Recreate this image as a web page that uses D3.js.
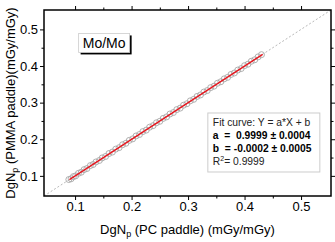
<!DOCTYPE html>
<html>
<head>
<meta charset="utf-8">
<script src="https://cdnjs.cloudflare.com/ajax/libs/d3/7.8.5/d3.min.js"></script>
<style>
  html, body { margin: 0; padding: 0; background: #fff; }
  svg { display: block; font-family: "Liberation Sans", Arial, sans-serif; }
</style>
</head>
<body>
<div id="chart"></div>
<script>
// DgNp values (PC paddle vs PMMA paddle)
var pcValues = [0.089, 0.093, 0.097, 0.101, 0.106, 0.111, 0.116, 0.121, 0.127, 0.132,
                0.137, 0.143, 0.148, 0.154, 0.160, 0.166, 0.172, 0.178, 0.184, 0.190,
                0.196, 0.202, 0.208, 0.214, 0.220, 0.226, 0.232, 0.238, 0.244, 0.250,
                0.256, 0.262, 0.268, 0.274, 0.280, 0.286, 0.292, 0.298, 0.304, 0.310,
                0.316, 0.322, 0.328, 0.334, 0.340, 0.346, 0.352, 0.358, 0.364, 0.370,
                0.376, 0.382, 0.388, 0.394, 0.400, 0.406, 0.412, 0.418, 0.424, 0.430];
var pmmaValues = [0.090, 0.092, 0.098, 0.100, 0.107, 0.110, 0.117, 0.120, 0.128, 0.131,
                  0.138, 0.142, 0.149, 0.153, 0.161, 0.165, 0.173, 0.177, 0.185, 0.189,
                  0.197, 0.201, 0.209, 0.213, 0.221, 0.225, 0.233, 0.237, 0.245, 0.249,
                  0.257, 0.261, 0.269, 0.273, 0.281, 0.285, 0.293, 0.297, 0.305, 0.309,
                  0.317, 0.321, 0.329, 0.333, 0.341, 0.345, 0.353, 0.357, 0.365, 0.369,
                  0.377, 0.381, 0.389, 0.393, 0.401, 0.405, 0.413, 0.417, 0.425, 0.431];
var tickValues = [0.1, 0.2, 0.3, 0.4, 0.5];
var minorTicks = [0.15, 0.25, 0.35, 0.45];
var fitA = 0.9999, fitB = -0.0002;
var fitRange = [0.09, 0.432];
var fitLines = [
  {text: 'Fit curve: Y = a*X + b', bold: false},
  {text: 'a  =  0.9999 \u00b1 0.0004', bold: true},
  {text: 'b  = -0.0002 \u00b1 0.0005', bold: true}
];

const WIDTH = 335, HEIGHT = 242;
var margin = {top: 10, right: 4, bottom: 46, left: 44};
var w = WIDTH - margin.left - margin.right;
var h = HEIGHT - margin.top - margin.bottom;

var x = d3.scaleLinear().domain([0.045, 0.553]).range([0, w]);
var y = d3.scaleLinear().domain([0.045, 0.553]).range([h, 0]);

var svg = d3.select('#chart').append('svg')
  .attr('width', WIDTH)
  .attr('height', HEIGHT);
var g = svg.append('g')
  .attr('transform', 'translate(' + margin.left + ',' + margin.top + ')');

// y = x reference
g.append('line')
  .attr('x1', x(0.045)).attr('y1', y(0.045))
  .attr('x2', x(0.553)).attr('y2', y(0.553))
  .attr('stroke', '#999').attr('stroke-width', 0.7)
  .attr('stroke-dasharray', '2,2');

var pts = pcValues.map(function (v, i) { return [v, pmmaValues[i]]; });
g.selectAll('circle.pt').data(pts).enter().append('circle')
  .attr('class', 'pt')
  .attr('cx', function (d) { return x(d[0]); })
  .attr('cy', function (d) { return y(d[1]); })
  .attr('r', 3)
  .attr('fill', 'none')
  .attr('stroke', '#a8a8a8')
  .attr('stroke-width', 0.9);

g.append('line')
  .attr('x1', x(fitRange[0])).attr('y1', y(fitA * fitRange[0] + fitB))
  .attr('x2', x(fitRange[1])).attr('y2', y(fitA * fitRange[1] + fitB))
  .attr('stroke', '#e8141c').attr('stroke-width', 1.3);

// axes, ticks outward on all four sides
function noLabels(axis) { return axis.tickFormat('').tickSizeOuter(0); }
var fmt = d3.format('.1f');
g.append('g').attr('transform', 'translate(0,' + h + ')')
  .call(d3.axisBottom(x).tickValues(tickValues).tickFormat(fmt).tickSize(4).tickSizeOuter(0).tickPadding(2));
g.append('g').attr('transform', 'translate(0,' + h + ')')
  .call(noLabels(d3.axisBottom(x).tickValues(minorTicks).tickSize(2.5)));
g.append('g')
  .call(d3.axisLeft(y).tickValues(tickValues).tickFormat(fmt).tickSize(4).tickSizeOuter(0).tickPadding(2));
g.append('g')
  .call(noLabels(d3.axisLeft(y).tickValues(minorTicks).tickSize(2.5)));
g.append('g')
  .call(noLabels(d3.axisTop(x).tickValues(tickValues).tickSize(4)));
g.append('g')
  .call(noLabels(d3.axisTop(x).tickValues(minorTicks).tickSize(2.5)));
g.append('g').attr('transform', 'translate(' + w + ',0)')
  .call(noLabels(d3.axisRight(y).tickValues(tickValues).tickSize(4)));
g.append('g').attr('transform', 'translate(' + w + ',0)')
  .call(noLabels(d3.axisRight(y).tickValues(minorTicks).tickSize(2.5)));

g.selectAll('.domain').remove();
g.selectAll('.tick line').attr('stroke', '#000').attr('stroke-width', 1);
g.selectAll('.tick text')
  .attr('font-family', '"Liberation Sans", Arial, sans-serif')
  .attr('font-size', 13).attr('fill', '#000');

g.append('rect')
  .attr('width', w).attr('height', h)
  .attr('fill', 'none').attr('stroke', '#000').attr('stroke-width', 1.5);

// Mo/Mo label with drop shadow
var lab = g.append('g').attr('transform', 'translate(' + x(0.1063) + ',' + y(0.489) + ')');
lab.append('rect').attr('x', 2).attr('y', 2).attr('width', 51).attr('height', 19).attr('fill', '#000');
lab.append('rect').attr('width', 51).attr('height', 19).attr('fill', '#fff')
  .attr('stroke', '#ccc').attr('stroke-width', 0.8);
lab.append('text').attr('x', 25.5).attr('y', 14.5).attr('text-anchor', 'middle')
  .attr('font-size', 14).attr('fill', '#000').text('Mo/Mo');

// fit result box
var box = g.append('g').attr('transform', 'translate(' + x(0.335) + ',' + y(0.2717) + ')');
box.append('rect').attr('width', 112).attr('height', 59)
  .attr('fill', '#fff').attr('stroke', '#ccc').attr('stroke-width', 1);
box.selectAll('text.fit').data(fitLines).enter().append('text')
  .attr('class', 'fit')
  .attr('x', 5)
  .attr('y', function (d, i) { return 13 + i * 13; })
  .attr('font-size', 10.3)
  .attr('xml:space', 'preserve')
  .style('white-space', 'pre')
  .attr('font-weight', function (d) { return d.bold ? 'bold' : 'normal'; })
  .attr('fill', function (d) { return d.bold ? '#000' : '#222'; })
  .text(function (d) { return d.text; });
var r2 = box.append('text').attr('x', 5).attr('y', 52).attr('font-size', 10.3).attr('fill', '#222');
r2.append('tspan').text('R');
r2.append('tspan').attr('font-size', 7).attr('dy', -4).text('2');
r2.append('tspan').attr('dy', 4).text('= 0.9999');

// axis titles
var xt = svg.append('text')
  .attr('x', margin.left + w / 2).attr('y', 234)
  .attr('text-anchor', 'middle').attr('font-size', 13).attr('fill', '#000');
xt.append('tspan').text('DgN');
xt.append('tspan').attr('font-size', 9).attr('dy', 3).text('p');
xt.append('tspan').attr('dy', -3).text(' (PC paddle) (mGy/mGy)');

var yt = svg.append('text')
  .attr('transform', 'translate(15,' + (margin.top + h / 2) + ') rotate(-90)')
  .attr('text-anchor', 'middle').attr('font-size', 13).attr('fill', '#000');
yt.append('tspan').text('DgN');
yt.append('tspan').attr('font-size', 9).attr('dy', 3).text('p');
yt.append('tspan').attr('dy', -3).text(' (PMMA paddle)(mGy/mGy)');
</script>
</body>
</html>
